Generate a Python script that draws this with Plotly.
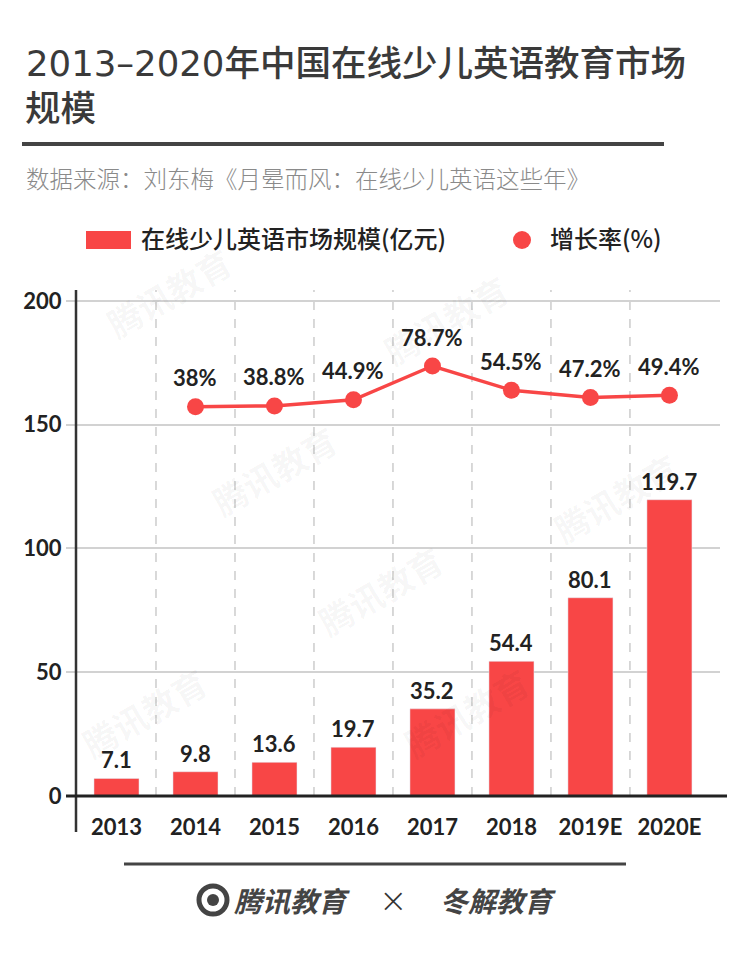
import plotly.graph_objects as go

years = ["2013", "2014", "2015", "2016", "2017", "2018", "2019E", "2020E"]
market = [7.1, 9.8, 13.6, 19.7, 35.2, 54.4, 80.1, 119.7]
growth_years = ["2014", "2015", "2016", "2017", "2018", "2019E", "2020E"]
growth = [38, 38.8, 44.9, 78.7, 54.5, 47.2, 49.4]
y_ticks = [0, 50, 100, 150, 200]

title_years = "2013–2020"
title_line1 = "年中国在线少儿英语教育市场"
title_line2 = "规模"
subtitle = "数据来源：刘东梅《月晕而风：在线少儿英语这些年》"
legend_bar = "在线少儿英语市场规模(亿元)"
legend_line = "增长率(%)"

RED = "#f84646"
DARK = "#222222"
CJK = "Noto Sans CJK SC"
NUM = "Lato, Noto Sans CJK SC"

OFF = 8  # page body margin
W, H = 750 - OFF, 966 - OFF
# plot area in screenshot pixels
L, R, T, B = 77, 720, 290, 800


def px2x(px):
    return (px - L) / (R - L)


def py2y(py):
    return (B - py) / (B - T)


fig = go.Figure()
fig.add_bar(x=years, y=market, marker_color=RED, width=0.57, yaxis="y",
            showlegend=False, hoverinfo="skip")
fig.add_scatter(x=growth_years, y=growth, yaxis="y2", mode="lines+markers",
                line=dict(color=RED, width=3.5), marker=dict(size=17, color=RED),
                showlegend=False, hoverinfo="skip")

ann = []
for yr, v in zip(years, market):
    ann.append(dict(x=years.index(yr), y=v, xref="x", yref="y", text=f"{v}", showarrow=False,
                    yanchor="bottom", yshift=3,
                    font=dict(family=NUM, size=22, color=DARK, weight="bold")))
for yr, g in zip(growth_years, growth):
    ann.append(dict(x=years.index(yr), y=g, xref="x", yref="y2", text=f"{g}%", showarrow=False,
                    yanchor="middle", yshift=29,
                    font=dict(family=NUM, size=22, color=DARK, weight="bold")))

# titles
ann.append(dict(x=px2x(24), y=py2y(60), xref="paper", yref="paper",
                text=f"<span style='font-family:DejaVu Sans'>{title_years}</span>{title_line1}",
                showarrow=False, xanchor="left", yanchor="middle",
                font=dict(family=CJK, size=35.5, color="#3a3a3a", weight=500)))
ann.append(dict(x=px2x(23), y=py2y(106), xref="paper", yref="paper", text=title_line2,
                showarrow=False, xanchor="left", yanchor="middle",
                font=dict(family=CJK, size=35.5, color="#3a3a3a", weight=500)))
ann.append(dict(x=px2x(24), y=py2y(178), xref="paper", yref="paper", text=subtitle,
                showarrow=False, xanchor="left", yanchor="middle",
                font=dict(family=CJK, size=23.5, color="#8a8a8a", weight=300)))
# legend texts
ann.append(dict(x=px2x(139), y=py2y(238), xref="paper", yref="paper", text=legend_bar,
                showarrow=False, xanchor="left", yanchor="middle",
                font=dict(family=CJK, size=24, color=DARK, weight=500)))
ann.append(dict(x=px2x(548), y=py2y(238), xref="paper", yref="paper", text=legend_line,
                showarrow=False, xanchor="left", yanchor="middle",
                font=dict(family=CJK, size=24, color=DARK, weight=500)))
# footer logos
ann.append(dict(x=px2x(232), y=py2y(900), xref="paper", yref="paper", text="<i>腾讯教育</i>",
                showarrow=False, xanchor="left", yanchor="middle",
                font=dict(family=CJK, size=28, color="#444444", weight="bold")))
ann.append(dict(x=px2x(393), y=py2y(900), xref="paper", yref="paper", text="×",
                showarrow=False, xanchor="center", yanchor="middle",
                font=dict(family="DejaVu Sans", size=34, color="#333333", weight=200)))
ann.append(dict(x=px2x(438), y=py2y(900), xref="paper", yref="paper", text="<i>冬解教育</i>",
                showarrow=False, xanchor="left", yanchor="middle",
                font=dict(family=CJK, size=28, color="#444444", weight="bold")))
# faint watermarks
for wx, wy in [(95, 235), (520, 262), (200, 470), (690, 440), (380, 590), (70, 770), (540, 770)]:
    ann.append(dict(x=px2x(wx), y=py2y(wy), xref="paper", yref="paper", text="腾讯教育",
                    showarrow=False, textangle=-30,
                    font=dict(family=CJK, size=34, color="rgba(0,0,0,0.04)", weight="bold")))

shapes = []
# vertical dashed separators
for i in range(len(years) - 1):
    shapes.append(dict(type="line", xref="x", yref="paper", x0=i + 0.5, x1=i + 0.5,
                       y0=py2y(796), y1=1, layer="below",
                       line=dict(color="#c4c4c4", width=1.3, dash="dash")))
# y axis line
shapes.append(dict(type="line", xref="paper", yref="paper", x0=px2x(76), x1=px2x(76),
                   y0=py2y(832), y1=1, line=dict(color="#333333", width=2.5)))
# zero line
shapes.append(dict(type="line", xref="paper", yref="y", x0=px2x(66), x1=px2x(727),
                   y0=0, y1=0, line=dict(color="#222222", width=3)))
# title separator
shapes.append(dict(type="line", xref="paper", yref="paper", x0=px2x(22), x1=px2x(664),
                   y0=py2y(144), y1=py2y(144), line=dict(color="#444444", width=4)))
# bottom separator
shapes.append(dict(type="line", xref="paper", yref="paper", x0=px2x(124), x1=px2x(626),
                   y0=py2y(864), y1=py2y(864), line=dict(color="#444444", width=3)))
# legend swatches
shapes.append(dict(type="rect", xref="paper", yref="paper", x0=px2x(86), x1=px2x(131),
                   y0=py2y(249), y1=py2y(231), fillcolor=RED, line=dict(width=0)))
shapes.append(dict(type="circle", xref="paper", yref="paper", x0=px2x(513), x1=px2x(531),
                   y0=py2y(249), y1=py2y(231), fillcolor=RED, line=dict(width=0)))
# footer icon
shapes.append(dict(type="circle", xref="paper", yref="paper", x0=px2x(199), x1=px2x(227),
                   y0=py2y(914), y1=py2y(886), line=dict(color="#444444", width=5)))
shapes.append(dict(type="circle", xref="paper", yref="paper", x0=px2x(207), x1=px2x(219),
                   y0=py2y(906), y1=py2y(894), fillcolor="#444444", line=dict(width=0)))

fig.update_layout(
    width=W, height=H,
    margin=dict(l=L - OFF, r=750 - R, t=T - OFF, b=966 - B),
    paper_bgcolor="white", plot_bgcolor="white",
    xaxis=dict(type="category", range=[-0.5, 7.64], showgrid=False, showline=False,
               zeroline=False, ticks="", ticklabelstandoff=12,
               tickfont=dict(family=NUM, size=22, color=DARK, weight="bold")),
    yaxis=dict(range=[-1.62, 204.44], tickvals=y_ticks, showgrid=True,
               gridcolor="#d2d2d2", gridwidth=1.5, zeroline=False, showline=False,
               ticks="outside", ticklen=10, tickcolor="#d2d2d2", tickwidth=1.5,
               tickfont=dict(family=NUM, size=22, color=DARK, weight="bold")),
    yaxis2=dict(range=[-355.3, 154.7], overlaying="y", visible=False),
    annotations=ann,
    shapes=shapes,
    showlegend=False,
)

fig.write_html("out.html")
